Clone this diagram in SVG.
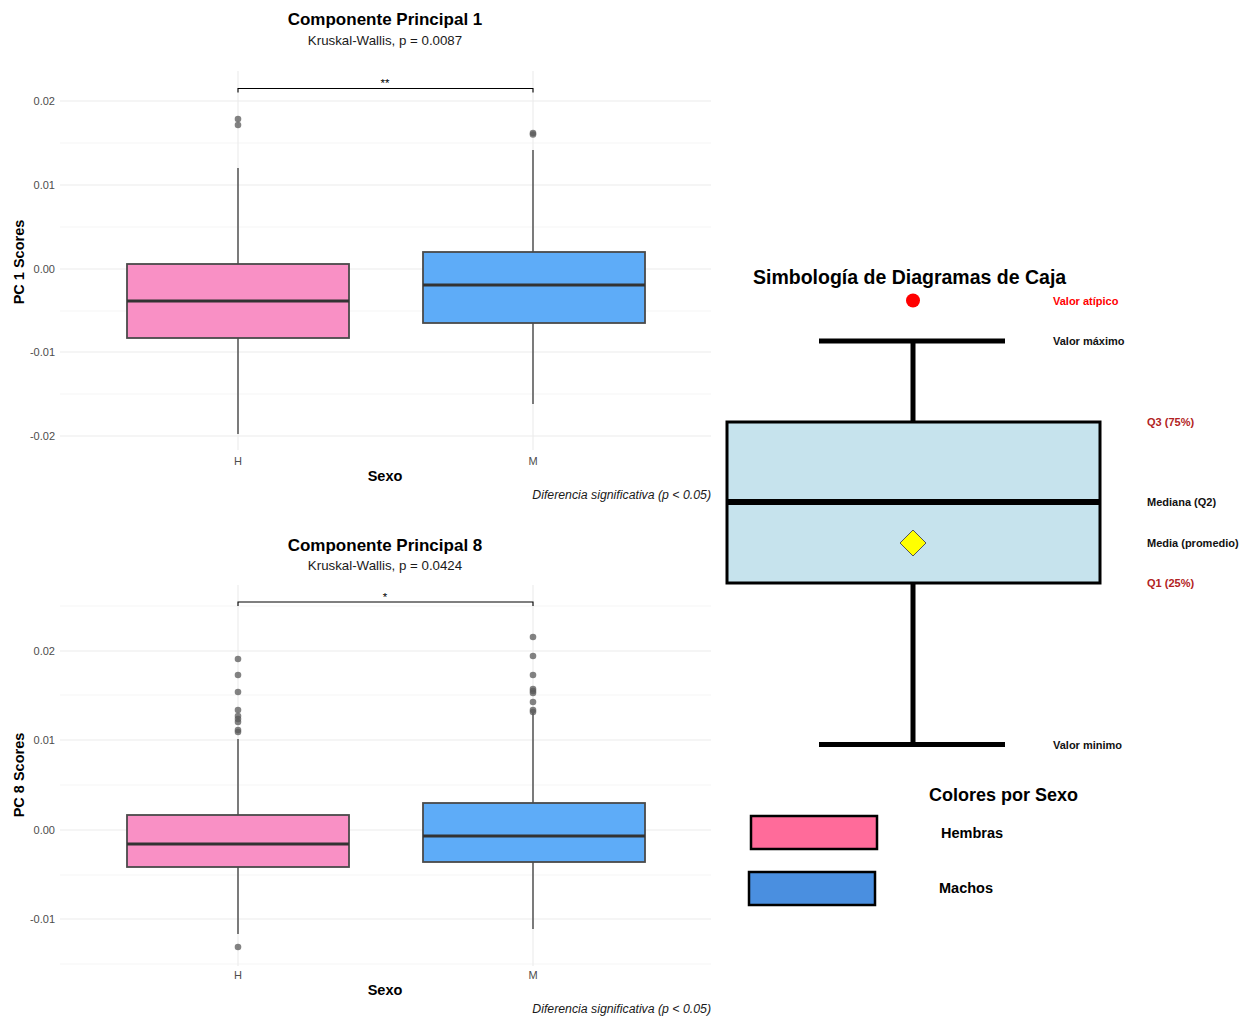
<svg xmlns="http://www.w3.org/2000/svg" width="1249" height="1019" viewBox="0 0 1249 1019">
<style>
text{font-family:"Liberation Sans",Arial,sans-serif}
.title{font-size:17px;font-weight:bold;fill:#000;text-anchor:middle}
.sub{font-size:13.3px;fill:#1a1a1a;text-anchor:middle}
.ytick{font-size:11px;fill:#4d4d4d;text-anchor:end}
.xtick{font-size:11px;fill:#4d4d4d;text-anchor:middle}
.axt{font-size:14.5px;font-weight:bold;fill:#000;text-anchor:middle}
.cap{font-size:12.3px;font-style:italic;fill:#1a1a1a;text-anchor:end}
.star{font-size:11.5px;fill:#000;text-anchor:middle}
.gmaj{stroke:#ebebeb;stroke-width:1.1}
.gmin{stroke:#f3f3f3;stroke-width:0.8}
.whisk{stroke:#3a3a3a;stroke-width:1.3}
.boxH{fill:#f990c5;stroke:#4a4a4a;stroke-width:1.8}
.boxM{fill:#5eacf8;stroke:#4a4a4a;stroke-width:1.8}
.med{stroke:#333;stroke-width:3}
.out{fill:#5a5a5a;fill-opacity:0.75}
.brk{stroke:#000;stroke-width:1.1;fill:none}
.lg{font-size:11px;font-weight:bold;fill:#111}
.lgr{font-size:11px;font-weight:bold;fill:#b22222}
.thick{stroke:#000;stroke-width:5;fill:none}
</style>

<!-- Top plot -->
<g id="plot1">
  <g id="plot1-grid">
    <line class="gmin" x1="60" y1="143" x2="711" y2="143"/>
    <line class="gmin" x1="60" y1="227" x2="711" y2="227"/>
    <line class="gmin" x1="60" y1="311" x2="711" y2="311"/>
    <line class="gmin" x1="60" y1="394" x2="711" y2="394"/>
    <line class="gmaj" x1="60" y1="101" x2="711" y2="101"/>
    <line class="gmaj" x1="60" y1="185" x2="711" y2="185"/>
    <line class="gmaj" x1="60" y1="269" x2="711" y2="269"/>
    <line class="gmaj" x1="60" y1="352" x2="711" y2="352"/>
    <line class="gmaj" x1="60" y1="436" x2="711" y2="436"/>
    <line class="gmaj" x1="238" y1="71" x2="238" y2="450"/>
    <line class="gmaj" x1="533" y1="71" x2="533" y2="450"/>
  </g>
  <text class="title" x="385" y="25">Componente Principal 1</text>
  <text class="sub" x="385" y="45">Kruskal-Wallis, p = 0.0087</text>
  <text class="ytick" x="55" y="105">0.02</text>
  <text class="ytick" x="55" y="189">0.01</text>
  <text class="ytick" x="55" y="273">0.00</text>
  <text class="ytick" x="55" y="356">-0.01</text>
  <text class="ytick" x="55" y="440">-0.02</text>
  <text class="xtick" x="238" y="465">H</text>
  <text class="xtick" x="533" y="465">M</text>
  <text class="axt" x="385" y="481">Sexo</text>
  <text class="axt" transform="translate(24 262) rotate(-90)">PC 1 Scores</text>
  <text class="cap" x="711" y="499">Diferencia significativa (p &lt; 0.05)</text>
  <g id="plot1-H">
    <line class="whisk" x1="238" y1="168" x2="238" y2="264"/>
    <line class="whisk" x1="238" y1="338" x2="238" y2="434"/>
    <rect class="boxH" x="127" y="264" width="222" height="74"/>
    <line class="med" x1="127" y1="301" x2="349" y2="301"/>
    <circle class="out" cx="238" cy="119" r="3.3"/>
    <circle class="out" cx="238" cy="125" r="3.3"/>
  </g>
  <g id="plot1-M">
    <line class="whisk" x1="533" y1="150" x2="533" y2="252"/>
    <line class="whisk" x1="533" y1="323" x2="533" y2="404"/>
    <rect class="boxM" x="423" y="252" width="222" height="71"/>
    <line class="med" x1="423" y1="285" x2="645" y2="285"/>
    <circle class="out" cx="533" cy="133" r="3.3"/>
    <circle class="out" cx="533" cy="134.5" r="3.3"/>
  </g>
  <g id="plot1-bracket">
    <path class="brk" d="M238,92.5 V88.5 H533 V92.5"/>
    <text class="star" x="385" y="87">**</text>
  </g>
</g>

<!-- Bottom plot -->
<g id="plot8">
  <g id="plot8-grid">
    <line class="gmin" x1="60" y1="606" x2="711" y2="606"/>
    <line class="gmin" x1="60" y1="695" x2="711" y2="695"/>
    <line class="gmin" x1="60" y1="785" x2="711" y2="785"/>
    <line class="gmin" x1="60" y1="875" x2="711" y2="875"/>
    <line class="gmin" x1="60" y1="964" x2="711" y2="964"/>
    <line class="gmaj" x1="60" y1="651" x2="711" y2="651"/>
    <line class="gmaj" x1="60" y1="740" x2="711" y2="740"/>
    <line class="gmaj" x1="60" y1="830" x2="711" y2="830"/>
    <line class="gmaj" x1="60" y1="919" x2="711" y2="919"/>
    <line class="gmaj" x1="238" y1="585" x2="238" y2="966"/>
    <line class="gmaj" x1="533" y1="585" x2="533" y2="966"/>
  </g>
  <text class="title" x="385" y="551">Componente Principal 8</text>
  <text class="sub" x="385" y="570">Kruskal-Wallis, p = 0.0424</text>
  <text class="ytick" x="55" y="655">0.02</text>
  <text class="ytick" x="55" y="744">0.01</text>
  <text class="ytick" x="55" y="834">0.00</text>
  <text class="ytick" x="55" y="923">-0.01</text>
  <text class="xtick" x="238" y="979">H</text>
  <text class="xtick" x="533" y="979">M</text>
  <text class="axt" x="385" y="995">Sexo</text>
  <text class="axt" transform="translate(24 775) rotate(-90)">PC 8 Scores</text>
  <text class="cap" x="711" y="1013">Diferencia significativa (p &lt; 0.05)</text>
  <g id="plot8-H">
    <line class="whisk" x1="238" y1="739" x2="238" y2="815"/>
    <line class="whisk" x1="238" y1="867" x2="238" y2="934"/>
    <rect class="boxH" x="127" y="815" width="222" height="52"/>
    <line class="med" x1="127" y1="844" x2="349" y2="844"/>
    <circle class="out" cx="238" cy="659" r="3.3"/>
    <circle class="out" cx="238" cy="675" r="3.3"/>
    <circle class="out" cx="238" cy="692" r="3.3"/>
    <circle class="out" cx="238" cy="710" r="3.3"/>
    <circle class="out" cx="238" cy="716" r="3.3"/>
    <circle class="out" cx="238" cy="719" r="3.3"/>
    <circle class="out" cx="238" cy="722" r="3.3"/>
    <circle class="out" cx="238" cy="730" r="3.3"/>
    <circle class="out" cx="238" cy="732" r="3.3"/>
    <circle class="out" cx="238" cy="947" r="3.3"/>
  </g>
  <g id="plot8-M">
    <line class="whisk" x1="533" y1="713" x2="533" y2="803"/>
    <line class="whisk" x1="533" y1="862" x2="533" y2="929"/>
    <rect class="boxM" x="423" y="803" width="222" height="59"/>
    <line class="med" x1="423" y1="836" x2="645" y2="836"/>
    <circle class="out" cx="533" cy="637" r="3.3"/>
    <circle class="out" cx="533" cy="656" r="3.3"/>
    <circle class="out" cx="533" cy="675" r="3.3"/>
    <circle class="out" cx="533" cy="689" r="3.3"/>
    <circle class="out" cx="533" cy="691" r="3.3"/>
    <circle class="out" cx="533" cy="693" r="3.3"/>
    <circle class="out" cx="533" cy="702" r="3.3"/>
    <circle class="out" cx="533" cy="710" r="3.3"/>
    <circle class="out" cx="533" cy="712" r="3.3"/>
  </g>
  <g id="plot8-bracket">
    <path class="brk" d="M238,606 V602 H533 V606"/>
    <text class="star" x="385" y="601">*</text>
  </g>
</g>

<!-- Legend: box plot symbology -->
<g id="legend-boxplot">
  <text x="753" y="284" style="font-size:19.5px;font-weight:bold;fill:#000">Simbología de Diagramas de Caja</text>
  <g id="sym-outlier">
    <circle cx="913" cy="300.5" r="7" fill="#ff0000"/>
    <text class="lg" x="1053" y="304.5" style="fill:#ff0000">Valor atípico</text>
  </g>
  <g id="sym-max">
    <line class="thick" x1="819" y1="341" x2="1005" y2="341"/>
    <line class="thick" x1="913" y1="341" x2="913" y2="422"/>
    <text class="lg" x="1053" y="345">Valor máximo</text>
  </g>
  <g id="sym-box">
    <rect x="727" y="422" width="373" height="161" fill="#c6e3ed" stroke="#000" stroke-width="3"/>
    <line x1="727" y1="502" x2="1100" y2="502" stroke="#000" stroke-width="6"/>
    <polygon points="913,530 926,543 913,556 900,543" fill="#ffff00" stroke="#555" stroke-width="1"/>
    <text class="lgr" x="1147" y="426">Q3 (75%)</text>
    <text class="lg" x="1147" y="506">Mediana (Q2)</text>
    <text class="lg" x="1147" y="547">Media (promedio)</text>
    <text class="lgr" x="1147" y="587">Q1 (25%)</text>
  </g>
  <g id="sym-min">
    <line class="thick" x1="913" y1="583" x2="913" y2="744"/>
    <line class="thick" x1="819" y1="744.5" x2="1005" y2="744.5"/>
    <text class="lg" x="1053" y="749">Valor minimo</text>
  </g>
</g>

<!-- Legend: colours by sex -->
<g id="legend-sex">
  <text x="929" y="801" style="font-size:18px;font-weight:bold;fill:#000">Colores por Sexo</text>
  <g id="sex-hembras">
    <rect x="751" y="816" width="126" height="33" fill="#ff6b9a" stroke="#000" stroke-width="2.5"/>
    <text x="941" y="838" style="font-size:14.5px;font-weight:bold;fill:#000">Hembras</text>
  </g>
  <g id="sex-machos">
    <rect x="749" y="872" width="126" height="33" fill="#4a8fe0" stroke="#000" stroke-width="2.5"/>
    <text x="939" y="893" style="font-size:14.5px;font-weight:bold;fill:#000">Machos</text>
  </g>
</g>
</svg>
